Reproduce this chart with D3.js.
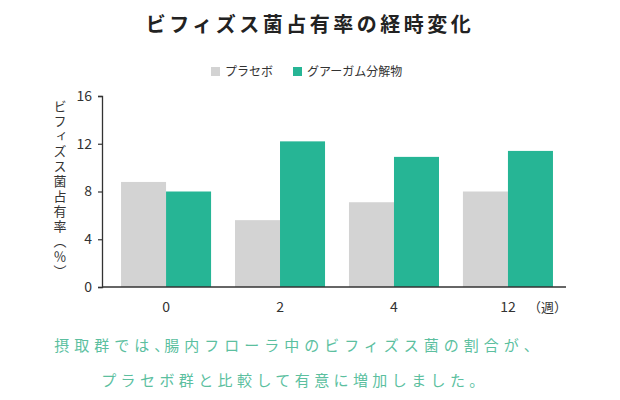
<!DOCTYPE html>
<html>
<head>
<meta charset="utf-8">
<script src="https://cdn.jsdelivr.net/npm/d3@7"></script>
<style>
  body { margin: 0; background: #fff; }
  svg text { font-family: "Noto Sans CJK JP", "Noto Sans", sans-serif; }
</style>
</head>
<body>
<div id="chart"></div>
<script>
const weeks = ["0", "2", "4", "12"];
const seriesNames = ["プラセボ", "グアーガム分解物"];
const placebo = [8.8, 5.6, 7.1, 8.0];
const guarGum = [8.0, 12.2, 10.9, 11.4];
const yTicks = [0, 4, 8, 12, 16];
const colors = ["#d3d3d3", "#26b595"];

const width = 620, height = 400;

const svg = d3.select("#chart")
  .append("svg")
  .attr("width", width)
  .attr("height", height);

const data = weeks.map((w, i) => ({ week: w, values: [placebo[i], guarGum[i]] }));

const x = d3.scaleBand()
  .domain(weeks)
  .range([102, 572])
  .paddingInner(0.21)
  .paddingOuter(0.167);

const xSub = d3.scaleBand()
  .domain(seriesNames)
  .range([0, x.bandwidth()]);

const y = d3.scaleLinear()
  .domain([0, 16])
  .range([287, 96]);

// title
svg.append("text")
  .attr("x", 310)
  .attr("y", 32)
  .attr("text-anchor", "middle")
  .style("font-size", "20px")
  .style("font-weight", "700")
  .style("letter-spacing", "3.5px")
  .attr("fill", "#222")
  .text("ビフィズス菌占有率の経時変化");

// legend
const legendX = [211, 293];
const legend = svg.selectAll(".legend")
  .data(seriesNames)
  .join("g")
  .attr("class", "legend")
  .attr("transform", (d, i) => `translate(${legendX[i]}, 67)`);

legend.append("rect")
  .attr("width", 9)
  .attr("height", 9)
  .attr("fill", (d, i) => colors[i]);

legend.append("text")
  .attr("x", 14)
  .attr("y", 4.5)
  .attr("dy", "0.35em")
  .style("font-size", "12px")
  .attr("fill", "#333")
  .text(d => d);

// bars
const groups = svg.selectAll(".group")
  .data(data)
  .join("g")
  .attr("class", "group")
  .attr("transform", d => `translate(${x(d.week)}, 0)`);

groups.selectAll("rect")
  .data(d => d.values.map((v, i) => ({ name: seriesNames[i], value: v, i })))
  .join("rect")
  .attr("x", d => xSub(d.name))
  .attr("y", d => y(d.value))
  .attr("width", xSub.bandwidth())
  .attr("height", d => y(0) - y(d.value))
  .attr("fill", d => colors[d.i]);

// y axis
const yAxis = svg.append("g")
  .attr("transform", "translate(102, 0)")
  .call(d3.axisLeft(y).tickValues(yTicks).tickSize(4).tickPadding(6));
yAxis.select(".domain").attr("stroke", "#333").attr("stroke-width", 1.3);
yAxis.selectAll(".tick line").attr("stroke", "#333").attr("stroke-width", 1.2);
yAxis.selectAll("text")
  .style("font-size", "14px")
  .attr("fill", "#333");

// x axis
const xAxis = svg.append("g")
  .attr("transform", `translate(0, ${y(0)})`)
  .call(d3.axisBottom(x).tickSize(0).tickPadding(15));
xAxis.select(".domain").remove();
xAxis.selectAll("text")
  .style("font-size", "14px")
  .attr("fill", "#333");

svg.append("line")
  .attr("x1", x.range()[0])
  .attr("x2", x.range()[1] - 6)
  .attr("y1", y(0))
  .attr("y2", y(0))
  .attr("stroke", "#333")
  .attr("stroke-width", 1.3);

svg.append("text")
  .attr("x", 528)
  .attr("y", y(0) + 25)
  .style("font-size", "13px")
  .attr("fill", "#333")
  .text("（週）");

// y label
svg.append("text")
  .attr("x", 60)
  .attr("y", 190)
  .attr("text-anchor", "middle")
  .style("writing-mode", "vertical-rl")
  .style("font-size", "13px")
  .style("letter-spacing", "2px")
  .attr("fill", "#333")
  .text("ビフィズス菌占有率（％）");

// caption, with the 、 set narrow
const caption = [
  "摂取群では、腸内フローラ中のビフィズス菌の割合が、",
  "プラセボ群と比較して有意に増加しました。"
];
const captionSpacing = [5, 4.4];
const captionText = svg.selectAll(".caption")
  .data(caption)
  .join("text")
  .attr("class", "caption")
  .attr("x", (d, i) => 294 + i)
  .attr("y", (d, i) => 351 + i * 35)
  .attr("text-anchor", "middle")
  .style("font-size", "15px")
  .style("letter-spacing", (d, i) => captionSpacing[i] + "px")
  .attr("fill", "#5cbf9f");

captionText.selectAll("tspan")
  .data(d => d.split(/(、)/).filter(s => s))
  .join("tspan")
  .style("letter-spacing", s => s === "、" ? "-5px" : null)
  .text(s => s);
</script>
</body>
</html>
